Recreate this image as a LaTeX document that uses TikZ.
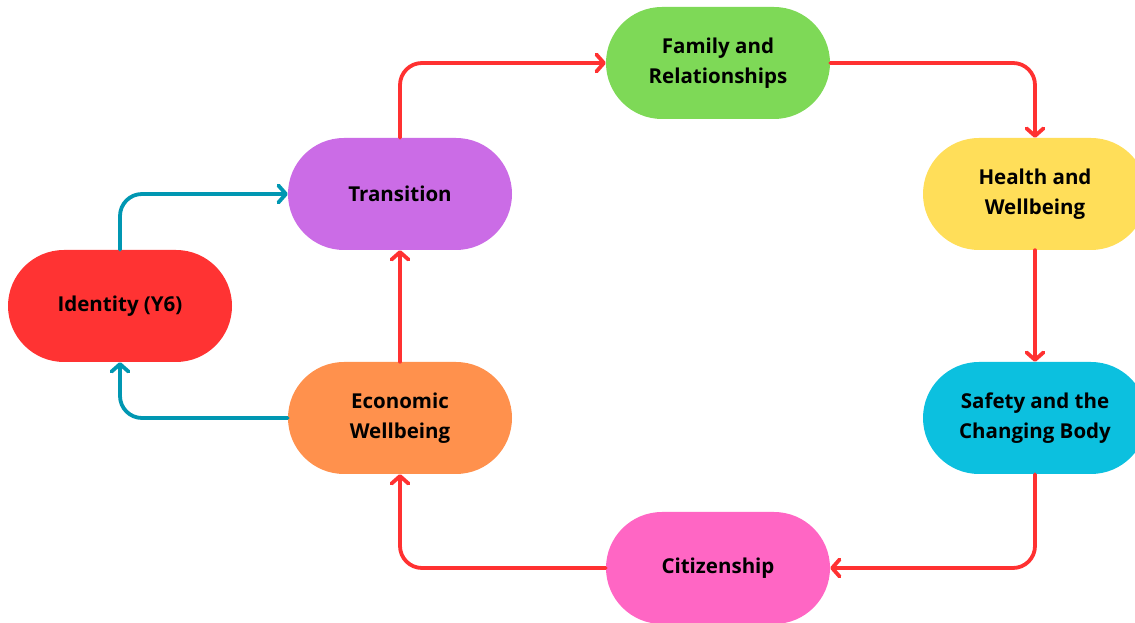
\documentclass[tikz,border=0pt]{standalone}
\usepackage{fontspec}
\setmainfont{Open Sans}
\usepackage{xcolor}
\definecolor{idred}{HTML}{FF3333}
\definecolor{translilac}{HTML}{CB6CE6}
\definecolor{econorange}{HTML}{FF914D}
\definecolor{famgreen}{HTML}{7ED957}
\definecolor{healthyellow}{HTML}{FFDE59}
\definecolor{safetyblue}{HTML}{0CC0DF}
\definecolor{citpink}{HTML}{FF66C4}
\definecolor{flowred}{HTML}{FF3131}
\definecolor{flowteal}{HTML}{0097B2}
\usepackage{tikz}
\usetikzlibrary{arrows.meta}

\begin{document}
\begin{tikzpicture}[x=1pt, y=1pt,
    pill/.style={rectangle, rounded corners=56pt, minimum width=224pt, minimum height=112pt,
        align=center, font=\fontsize{20.5}{30}\selectfont\bfseries, text=black},
    flow/.style={line width=3.8pt, rounded corners=22pt, line cap=round,
        -{Straight Barb[length=7.5pt, width=17pt, line cap=round, line join=round]}}]

% Canvas
\useasboundingbox (0,0) rectangle (1135,623);
\clip (0,0) rectangle (1135,623);
\fill[white] (0,0) rectangle (1135,623);

% Topic pills
\node[pill, fill=idred] (identity) at (120,317) {Identity (Y6)};
\node[pill, fill=translilac] (transition) at (400,429) {Transition};
\node[pill, fill=econorange] (economic) at (400,205) {Economic\\Wellbeing};
\node[pill, fill=famgreen] (family) at (718,560) {Family and\\Relationships};
\node[pill, fill=healthyellow] (health) at (1035,429) {Health and\\Wellbeing};
\node[pill, fill=safetyblue] (safety) at (1035,205) {Safety and the\\Changing Body};
\node[pill, fill=citpink] (citizenship) at (718,55) {Citizenship};

% Main cycle (red)
\draw[flow, flowred] (transition.north) |- (family.west);
\draw[flow, flowred] (family.east) -| (health.north);
\draw[flow, flowred] (health.south) -- (safety.north);
\draw[flow, flowred] (safety.south) |- (citizenship.east);
\draw[flow, flowred] (citizenship.west) -| (economic.south);
\draw[flow, flowred] (economic.north) -- (transition.south);

% Link to Y6 (teal)
\draw[flow, flowteal] (economic.west) -| (identity.south);
\draw[flow, flowteal] (identity.north) |- (transition.west);

\end{tikzpicture}
\end{document}
